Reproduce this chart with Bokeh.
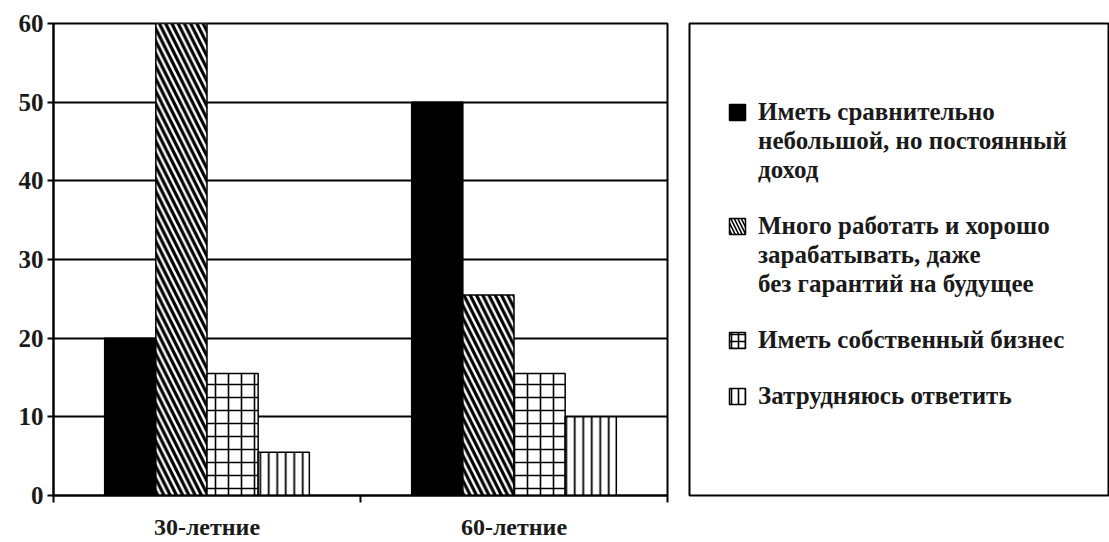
from bokeh.plotting import figure
from bokeh.layouts import row
from bokeh.models import Range1d, FixedTicker, Legend, LegendItem
from bokeh.embed import file_html
from bokeh.resources import INLINE

categories = ["30-летние", "60-летние"]
series = [
    ["Иметь сравнительно", "небольшой, но постоянный", "доход"],
    ["Много работать и хорошо", "зарабатывать, даже", "без гарантий на будущее"],
    ["Иметь собственный бизнес"],
    ["Затрудняюсь ответить"],
]
stable_income = [20, 50]
work_hard = [60, 25.5]
own_business = [15.5, 15.5]
hard_to_say = [5.5, 10]
values = [stable_income, work_hard, own_business, hard_to_say]
y_ticks = [0, 10, 20, 30, 40, 50, 60]

styles = [
    dict(fill_color="black"),
    dict(fill_color="white", hatch_pattern="left_diagonal_line", hatch_scale=12.5, hatch_weight=3.2),
    dict(fill_color="white", hatch_pattern="cross", hatch_scale=13, hatch_weight=1.6),
    dict(fill_color="white", hatch_pattern="vertical_line", hatch_scale=8.5, hatch_weight=1.8),
]

FONT = "'Liberation Serif', 'DejaVu Serif', serif"

p = figure(width=680, height=542, x_range=Range1d(0, 2), y_range=Range1d(0, 60),
           output_backend="svg", toolbar_location=None,
           min_border_left=53, min_border_top=23, min_border_right=13, min_border_bottom=37)
p.background_fill_color = "white"
p.border_fill_color = "white"
p.outline_line_color = "black"
p.outline_line_width = 2

n = len(series)
bw = 1.0 / 6.0
for si, (vals, st) in enumerate(zip(values, styles)):
    xs = [gi + 0.5 + (si - (n - 1) / 2) * bw for gi in range(len(categories))]
    kw = dict(line_color="black", line_width=1.5, hatch_color="black")
    kw.update(st)
    p.vbar(x=xs, top=vals, bottom=0, width=bw, **kw)

p.xgrid.visible = False
p.ygrid.grid_line_color = "black"
p.ygrid.grid_line_width = 2
p.ygrid.ticker = FixedTicker(ticks=y_ticks)

p.yaxis.ticker = FixedTicker(ticks=y_ticks, minor_ticks=[])
p.yaxis.axis_line_width = 2
p.yaxis.major_tick_line_width = 2
p.yaxis.major_tick_out = 6
p.yaxis.major_tick_in = 0
p.yaxis.major_label_standoff = 4
p.yaxis.major_label_text_font = FONT
p.yaxis.major_label_text_font_style = "bold"
p.yaxis.major_label_text_font_size = "25px"
p.yaxis.major_label_text_color = "#1a1a1a"

centers = [gi + 0.5 for gi in range(len(categories))]
bounds = list(range(len(categories) + 1))
p.xaxis.ticker = FixedTicker(ticks=centers, minor_ticks=bounds)
p.xaxis.major_label_overrides = {c: lab for c, lab in zip(centers, categories)}
p.xaxis.axis_line_width = 2
p.xaxis.major_tick_out = 0
p.xaxis.major_tick_in = 0
p.xaxis.minor_tick_out = 7
p.xaxis.minor_tick_in = 0
p.xaxis.minor_tick_line_width = 2
p.xaxis.major_label_standoff = 11
p.xaxis.major_label_text_font = FONT
p.xaxis.major_label_text_font_style = "bold"
p.xaxis.major_label_text_font_size = "24px"
p.xaxis.major_label_text_color = "#1a1a1a"

# Legend panel
q = figure(width=429, height=542, x_range=Range1d(0, 1), y_range=Range1d(0, 1),
           output_backend="svg", toolbar_location=None,
           min_border_left=9, min_border_top=23, min_border_right=0, min_border_bottom=39)
q.axis.visible = False
q.grid.visible = False
q.outline_line_color = "black"
q.outline_line_width = 2
q.background_fill_color = "white"
q.border_fill_color = "white"

items = []
for k, (lines, st) in enumerate(zip(series, styles)):
    kw = dict(line_color="black", line_width=1.5, hatch_color="black")
    kw.update(st)
    if "hatch_pattern" in kw:
        kw["hatch_scale"] = 7
        kw["hatch_weight"] = 1.6
    r = q.vbar(x=[0.5], top=[0.0], bottom=[0.0], width=0.0, **kw)
    items.append(LegendItem(label=lines[0], renderers=[r]))
    for extra in lines[1:]:
        items.append(LegendItem(label=extra, renderers=[]))
    if k < len(series) - 1:
        items.append(LegendItem(label="", renderers=[]))

leg = Legend(items=items, location=(38, 85))
leg.border_line_alpha = 0
leg.background_fill_alpha = 0
leg.label_text_font = FONT
leg.label_text_font_style = "bold"
leg.label_text_font_size = "25px"
leg.label_text_color = "#1a1a1a"
leg.glyph_width = 20
leg.glyph_height = 20
leg.label_height = 26
leg.spacing = 1
leg.margin = 0
leg.padding = 0
leg.label_standoff = 11
q.add_layout(leg)

layout = row(p, q)
open("out.html", "w").write(file_html(layout, INLINE))
